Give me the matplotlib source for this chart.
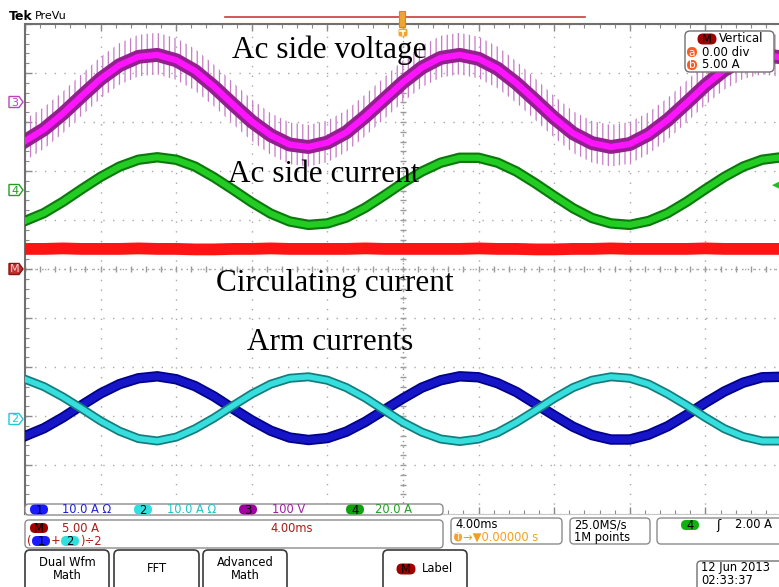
import matplotlib
matplotlib.use("Agg")
import matplotlib.pyplot as plt
from matplotlib.patches import FancyBboxPatch, Rectangle, Polygon
import numpy as np

# ---------------- data (screen divisions) ----------------
time_ms = list(range(0, 41))          # 4 ms/div, 10 divisions

ac_voltage_div = [2.61, 2.85, 3.17, 3.53, 3.88, 4.16, 4.33, 4.37, 4.26, 4.04,
                  3.72, 3.36, 3.01, 2.73, 2.54, 2.49, 2.58, 2.79, 3.11, 3.46,
                  3.81, 4.11, 4.31, 4.37, 4.29, 4.09, 3.79, 3.44, 3.08, 2.77,
                  2.57, 2.49, 2.55, 2.75, 3.04, 3.39, 3.75, 4.06, 4.28, 4.37, 4.32]
voltage_spike_up = 0.45
voltage_spike_down = 0.40

ac_current_div = [0.98, 1.14, 1.37, 1.63, 1.88, 2.09, 2.23, 2.28, 2.23, 2.09,
                  1.87, 1.62, 1.36, 1.13, 0.97, 0.90, 0.93, 1.05, 1.25, 1.50,
                  1.76, 1.99, 2.17, 2.27, 2.27, 2.17, 1.99, 1.75, 1.49, 1.24,
                  1.04, 0.93, 0.90, 0.98, 1.14, 1.37, 1.63, 1.88, 2.09, 2.23, 2.28]

circulating_div = [0.41, 0.41, 0.42, 0.41, 0.41, 0.41, 0.42, 0.41, 0.41, 0.40,
                   0.40, 0.41, 0.41, 0.42, 0.41, 0.41, 0.41, 0.41, 0.42, 0.41,
                   0.41, 0.41, 0.41, 0.41, 0.42, 0.41, 0.41, 0.40, 0.40, 0.41,
                   0.41, 0.42, 0.41, 0.41, 0.41, 0.41, 0.42, 0.41, 0.41, 0.41, 0.41]

arm1_div = [-3.41, -3.25, -3.03, -2.78, -2.54, -2.35, -2.23, -2.19, -2.25, -2.39,
            -2.60, -2.85, -3.09, -3.30, -3.44, -3.49, -3.45, -3.32, -3.12, -2.88,
            -2.64, -2.42, -2.27, -2.19, -2.21, -2.33, -2.51, -2.75, -2.99, -3.22,
            -3.39, -3.48, -3.48, -3.38, -3.21, -2.98, -2.73, -2.50, -2.32, -2.21, -2.20]

arm2_div = [-2.25, -2.40, -2.61, -2.85, -3.10, -3.31, -3.46, -3.51, -3.43, -3.26,
            -3.04, -2.79, -2.55, -2.35, -2.23, -2.20, -2.27, -2.42, -2.63, -2.88,
            -3.13, -3.33, -3.47, -3.52, -3.47, -3.34, -3.13, -2.89, -2.64, -2.42,
            -2.27, -2.20, -2.23, -2.35, -2.55, -2.78, -3.03, -3.26, -3.42, -3.51, -3.51]

trace_labels = ["Ac side voltage", "Ac side current", "Circulating current", "Arm currents"]
channel_scales = ["10.0 A \u03a9", "10.0 A \u03a9", "100 V", "20.0 A"]

# ---------------- figure ----------------
W, H = 779, 587
plt.rcParams["hatch.linewidth"] = 0.9
fig = plt.figure(figsize=(W / 100, H / 100), dpi=100)
fig.patch.set_facecolor("white")

ax = fig.add_axes([25 / W, (H - 514) / H, 756 / W, 490 / H])
ax.set_xlim(0, 40)
ax.set_ylim(-5, 5)
ax.set_xticks(np.arange(0, 41, 4))
ax.set_yticks(np.arange(-5, 6, 1))
ax.set_xticks(np.arange(0, 40.01, 0.8), minor=True)
ax.set_yticks(np.arange(-5, 5.01, 0.2), minor=True)
ax.tick_params(which="both", direction="in", top=True, bottom=True, left=True,
               right=False, labelbottom=False, labelleft=False, color="#8a8a8a")
ax.tick_params(which="major", length=5, width=1)
ax.tick_params(which="minor", length=3, width=0.8)
ax.grid(which="major", color="#a8a8a8", linestyle=(0, (1, 6)), linewidth=1)
ax.spines["right"].set_visible(False)
ax.spines["top"].set_color("#707070")
ax.spines["top"].set_linewidth(1.5)
ax.spines["left"].set_color("#707070")
ax.spines["left"].set_linewidth(1.5)
ax.spines["bottom"].set_color("#c8c8c8")
ax.spines["bottom"].set_linewidth(0.8)

# centre crosshair with minor ticks
mx = np.arange(0, 40.01, 0.8)
my = np.arange(-5, 5.01, 0.2)
ax.axhline(0, color="#9a9a9a", ls=(0, (1, 3)), lw=1, zorder=1)
ax.axvline(20, color="#9a9a9a", ls=(0, (1, 3)), lw=1, zorder=1)
ax.plot(mx, np.zeros_like(mx), ls="none", marker="|", ms=5, color="#9a9a9a", zorder=1)
ax.plot(np.full_like(my, 20), my, ls="none", marker="_", ms=5, color="#9a9a9a", zorder=1)

t = np.array(time_ms, dtype=float)
v = np.array(ac_voltage_div)

# Ac side voltage (channel 3)
ax.fill_between(t, v - voltage_spike_down, v + voltage_spike_up, facecolor="none",
                edgecolor="#c47cc4", hatch="|||", linewidth=0, zorder=2)
ax.plot(t, v, color="#93208f", lw=10, zorder=3)
ax.plot(t, v, color="#ff14ff", lw=4.5, zorder=4)

# Ac side current (channel 4)
ax.plot(t, ac_current_div, color="#0b780b", lw=7.5, zorder=3)
ax.plot(t, ac_current_div, color="#22cc22", lw=4.5, zorder=4)

# Circulating current (math)
ax.plot(t, circulating_div, color="#ff1414", lw=8.5, zorder=3)

# Arm currents (channels 1, 2)
ax.plot(t, arm1_div, color="#000088", lw=7.5, zorder=3)
ax.plot(t, arm1_div, color="#1616c8", lw=5, zorder=4)
ax.plot(t, arm2_div, color="#147c7c", lw=6.5, zorder=5)
ax.plot(t, arm2_div, color="#36dede", lw=4, zorder=6)

# ---------------- overlay (screen furniture) ----------------
ui = fig.add_axes([0, 0, 1, 1], zorder=5)
ui.set_xlim(0, W)
ui.set_ylim(H, 0)
ui.axis("off")

FS = 8.3
MONO = "DejaVu Sans"


def box(x0, y0, x1, y1, ec="#8c8c8c", r=4, lw=1.0):
    ui.add_patch(FancyBboxPatch((x0, y0), x1 - x0, y1 - y0,
                                boxstyle=f"round,pad=0,rounding_size={r}",
                                fc="white", ec=ec, lw=lw, zorder=1))


def pill(xc, yc, txt, fc, tc="black", w=18, h=10, fs=FS):
    ui.add_patch(FancyBboxPatch((xc - w / 2, yc - h / 2), w, h,
                                boxstyle=f"round,pad=0,rounding_size={h / 2}",
                                fc=fc, ec="none", zorder=2))
    ui.text(xc, yc + 0.5, txt, ha="center", va="center", fontsize=fs, color=tc,
            family=MONO, zorder=3)


def txt(x, y, s, color="black", fs=FS, ha="left", **kw):
    ui.text(x, y, s, ha=ha, va="center", fontsize=fs, color=color, family=MONO, zorder=3, **kw)


def tag(x0, yc, s, ec, fc="white", tc=None):
    pts = [(x0, yc - 5.5), (x0 + 10, yc - 5.5), (x0 + 14, yc), (x0 + 10, yc + 5.5), (x0, yc + 5.5)]
    ui.add_patch(Polygon(pts, closed=True, fc=fc, ec=ec, lw=1, zorder=2))
    ui.text(x0 + 6, yc + 0.5, s, ha="center", va="center", fontsize=8, color=tc or ec,
            family=MONO, zorder=3)


# Header
ui.text(9, 17, "Tek", fontsize=9, fontweight="bold", family=MONO, va="center", ha="left")
ui.text(35, 16, "PreVu", fontsize=8, family=MONO, va="center", ha="left")
ui.plot([225, 585], [17, 17], color="#cc3b3b", lw=1.2)
ui.add_patch(Rectangle((399.5, 11), 6, 16, fc="#f2a330", ec="#d88a10", lw=0.8, zorder=3))
# trigger-position "T" tag (drawn as a shape, not text)
ui.add_patch(FancyBboxPatch((398.5, 28.5), 9, 8, boxstyle="round,pad=0,rounding_size=2",
                            fc="#f2a330", ec="none", zorder=3))
ui.plot([400.5, 405.5], [30.5, 30.5], color="white", lw=1.1, zorder=4)
ui.plot([403, 403], [30.5, 35], color="white", lw=1.1, zorder=4)

# Channel tags on the left
tag(9, 102, "3", "#c040c0")
tag(9, 190, "4", "#20a020")
tag(9, 269, "M", "#8b1010", fc="#c03030", tc="#f4d0d0")
tag(9, 419, "2", "#20c8d8")
ui.text(776, 185, "\u25c0", fontsize=8, color="#22bb22", ha="center", va="center")

# Vertical box (top right)
box(685, 31, 774, 72, ec="#707070", r=5)
pill(707, 39, "M", "#a00000", w=19, h=11)
txt(719, 39, "Vertical", fs=8.5)
pill(692, 52, "a", "#ff5a1a", tc="white", w=10, h=10, fs=7.5)
txt(702, 52, "0.00 div", fs=8.5)
pill(692, 65, "b", "#ff5a1a", tc="white", w=10, h=10, fs=7.5)
txt(702, 65, "5.00 A", fs=8.5)

# Trace annotations
serif = "Liberation Serif"
ann_x = [232, 228, 216, 247]
ann_y = [58, 182, 291, 350]
for s, x, y in zip(trace_labels, ann_x, ann_y):
    ui.text(x, y, s, fontsize=22.5, family=serif, ha="left", va="baseline", zorder=4)

# Row 1: channel scales
box(25, 504, 443, 515, r=4)
pill(39, 509.5, "1", "#1a1aff")
txt(62, 509.5, channel_scales[0], color="#2020e0")
pill(143, 509.5, "2", "#2ee0e0")
txt(167, 509.5, channel_scales[1], color="#20c4c4")
pill(248, 509.5, "3", "#a000a0")
txt(272, 509.5, channel_scales[2], color="#a020a0")
pill(355, 509.5, "4", "#10a010")
txt(375, 509.5, channel_scales[3], color="#20a020")

# Row 2: math definition
box(25, 520, 443, 548, r=4)
pill(39, 528, "M", "#a00000")
txt(62, 528, "5.00 A", color="#b01818")
txt(270, 528, "4.00ms", color="#b01818")
txt(27, 541, "(", color="#b01818")
pill(41, 541, "1", "#1a1aff")
txt(51, 541, "+", color="#b01818")
pill(70, 541, "2", "#2ee0e0")
txt(80, 541, ")\u00f72", color="#b01818")

# Timebase / acquisition / trigger boxes
box(451, 518, 562, 544, r=4)
txt(455, 525, "4.00ms")
pill(458, 537, "T", "#f2a330", tc="white", w=8, h=9, fs=6.5)
txt(463, 537, "\u2192\u25bc0.00000 s", color="#f0a020")
box(570, 518, 650, 544, r=4)
txt(574, 525, "25.0MS/s")
txt(574, 537, "1M points")
box(657, 518, 790, 544, r=4)
pill(690, 525, "4", "#10b010")
txt(716, 525, "\u0283", fs=9)
txt(735, 525, "2.00 A")

# Soft-key buttons
for x0, x1, label in [(25, 109, "Dual Wfm\nMath"), (114, 199, "FFT"), (203, 287, "Advanced\nMath")]:
    box(x0, 550, x1, 600, ec="#3a3a3a", r=5, lw=1.2)
    ui.text((x0 + x1) / 2, 569, label, ha="center", va="center", fontsize=FS,
            family=MONO, linespacing=1.05, zorder=3)
box(383, 550, 467, 600, ec="#3a3a3a", r=5, lw=1.2)
pill(406, 569, "M", "#a00000", w=19, h=11)
txt(422, 569, "Label")

# Date
box(697, 561, 790, 600, ec="#707070", r=4)
txt(701, 568, "12 Jun 2013")
txt(701, 580, "02:33:37")

fig.savefig("out.png", dpi=100)
